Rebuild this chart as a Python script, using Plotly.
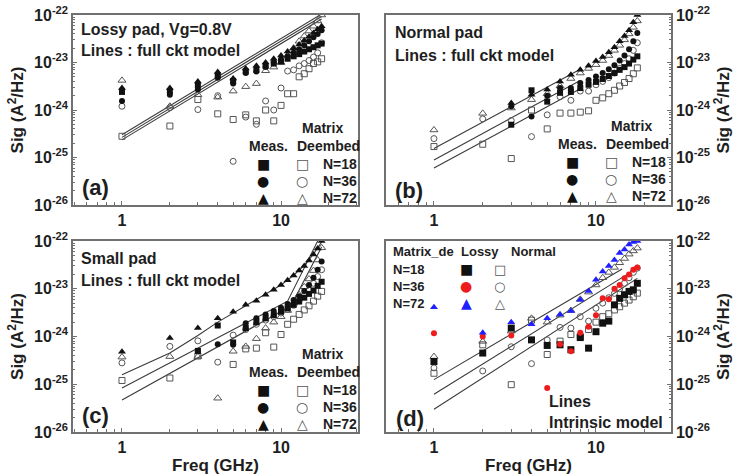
import plotly.graph_objects as go

W, H = 744, 476
FREQ = list(range(1, 19))

# ---------------- panel (a) : Lossy pad, Vg=0.8V ----------------
A_MEAS_18 = [2.4e-24, 2.5e-24, 3.3e-24, 5.4e-24, 4.1e-24, 6.5e-24, 7.0e-24, 8.5e-24, 9.5e-24,
             1.05e-23, 1.2e-23, 1.35e-23, 1.5e-23, 1.7e-23, 1.9e-23, 2.1e-23, 2.3e-23, 2.5e-23]
A_MEAS_36 = [1.55e-24, 2.1e-24, 2.7e-24, 4.8e-24, 3.6e-24, 6.0e-24, 6.5e-24, 8.0e-24, 1.0e-23,
             1.15e-23, 1.35e-23, 1.6e-23, 1.9e-23, 2.3e-23, 2.8e-23, 3.4e-23, 4.0e-23, 4.8e-23]
A_MEAS_72 = [2.9e-24, 2.9e-24, 4.0e-24, 6.3e-24, 4.6e-24, 7.5e-24, 8.5e-24, 1.0e-23, 1.2e-23,
             1.4e-23, 1.7e-23, 2.0e-23, 2.4e-23, 2.9e-23, 3.5e-23, 4.2e-23, 5.0e-23, 5.8e-23]
A_DEEM_18 = [2.8e-25, 4.6e-25, 1.66e-24, 8.3e-25, 6.3e-25, 7.9e-25, 5.9e-25, 1.0e-24, 5.9e-25,
             1.25e-24, 2.2e-24, 2.2e-24, 5.0e-24, 5.8e-24, 7.4e-24, 9.5e-24, 1.03e-23, 1.2e-23]
A_DEEM_36 = [1.2e-24, 1.12e-24, 1.02e-24, 2.0e-24, 8.3e-26, 7.1e-25, 5.0e-25, 1.55e-24, 1.0e-24,
             2.9e-24, 6.6e-24, 7.0e-24, 8.5e-24, 9.5e-24, 1.1e-23, 1.3e-23, 1.6e-23, 2.6e-23]
A_DEEM_72 = [4.2e-24, 1.2e-24, 2.1e-24, 1.86e-24, 2.5e-24, 3.1e-24, 3.6e-24, 6.7e-24, 8.0e-24,
             1.0e-23, 1.4e-23, 2.0e-23, 2.8e-23, 3.6e-23, 4.6e-23, 5.8e-23, 7.5e-23, 1.0e-22]
A_LINE_F = [1, 18]
A_LINE_1 = [3.0e-25, 1.05e-22]
A_LINE_2 = [2.65e-25, 9.3e-23]
A_LINE_3 = [2.35e-25, 8.2e-23]

# ---------------- panel (b) : Normal pad ----------------
B_MEAS_18 = [None, None, 4.9e-25, 2.6e-24, 1.5e-24, 2.3e-24, 2.4e-24, 2.9e-24, 3.4e-24,
             3.9e-24, 4.5e-24, 5.2e-24, 6.0e-24, 7.0e-24, 8.0e-24, 9.5e-24, 1.15e-23, 1.35e-23]
B_MEAS_36 = [None, None, 1.2e-24, 7.3e-25, 2.0e-24, 2.9e-24, 2.9e-24, 3.7e-24, 4.3e-24,
             5.1e-24, 6.0e-24, 7.2e-24, 8.8e-24, 1.1e-23, 1.4e-23, 1.9e-23, 2.8e-23, 4.2e-23]
B_MEAS_72 = [None, None, 1.4e-24, 2.1e-24, 2.7e-24, 4.0e-24, 5.5e-24, 7.0e-24, 8.5e-24,
             1.07e-23, 1.3e-23, 1.65e-23, 2.1e-23, 2.8e-23, 3.6e-23, 4.8e-23, 7.0e-23, 1.0e-22]
B_DEEM_18 = [1.7e-25, 1.9e-25, 9.5e-26, 1.0e-24, 4.0e-25, 8.6e-25, 8.6e-25, 9.0e-25, 9.6e-25,
             1.6e-24, 1.8e-24, 2.2e-24, 2.6e-24, 3.2e-24, 3.8e-24, 4.6e-24, 5.8e-24, 7.7e-24]
B_DEEM_36 = [2.5e-25, 6.5e-25, 6.0e-25, 2.75e-25, 7.9e-25, 1.9e-24, 1.6e-24, 2.5e-24, 2.5e-24,
             3.4e-24, 4.0e-24, 4.8e-24, 6.0e-24, 7.5e-24, 9.5e-24, 1.2e-23, 1.8e-23, 2.6e-23]
B_DEEM_72 = [3.8e-25, 8.5e-25, 1.1e-24, 1.65e-24, 2.2e-24, 3.2e-24, 4.6e-24, 6.0e-24, 7.5e-24,
             9.0e-24, 1.1e-23, 1.4e-23, 1.8e-23, 2.3e-23, 3.0e-23, 4.0e-23, 5.5e-23, 7.5e-23]
B_LINE_F = [1, 8]
B_LINE_1 = [1.55e-25, 7.2e-24]
B_LINE_2 = [8.9e-26, 4.2e-24]
B_LINE_3 = [6.0e-26, 2.8e-24]

# ---------------- panel (c) : Small pad ----------------
C_MEAS_18 = [None, None, 5.0e-25, 1.7e-24, 7.5e-25, 1.5e-24, 2.0e-24, 2.4e-24, 2.8e-24,
             3.3e-24, 3.9e-24, 4.6e-24, 5.4e-24, 6.5e-24, 7.8e-24, 9.2e-24, 1.15e-23, 1.4e-23]
C_MEAS_36 = [None, None, 4.9e-25, 6.9e-25, 6.7e-25, 1.9e-24, 2.4e-24, 2.9e-24, 3.4e-24,
             4.0e-24, 4.8e-24, 5.8e-24, 7.0e-24, 9.0e-24, 1.2e-23, 1.7e-23, 2.5e-23, 3.7e-23]
C_MEAS_72 = [4.8e-25, 9.3e-25, 1.5e-24, 2.4e-24, 3.3e-24, 4.6e-24, 5.6e-24, 7.5e-24, 9.5e-24,
             1.2e-23, 1.5e-23, 1.9e-23, 2.4e-23, 3.0e-23, 3.9e-23, 5.2e-23, 7.0e-23, 1.0e-22]
C_DEEM_18 = [1.2e-25, 1.35e-25, 3.9e-25, None, 2.6e-25, 5.5e-25, 5.7e-25, 1.2e-24, 6.0e-25,
             1.1e-24, 1.8e-24, 2.3e-24, 2.9e-24, 3.6e-24, 4.4e-24, 5.5e-24, 7.0e-24, 8.8e-24]
C_DEEM_36 = [2.8e-25, 6.2e-25, 8.1e-25, 2.9e-25, 1.07e-24, 1.4e-24, 1.8e-24, 2.2e-24, 2.6e-24,
             3.1e-24, 3.7e-24, 4.5e-24, 5.6e-24, 7.2e-24, 9.5e-24, 1.3e-23, 1.8e-23, 2.5e-23]
C_DEEM_72 = [3.7e-25, 3.8e-25, 3.8e-25, 5.1e-26, 4.9e-25, 6.2e-25, 9.0e-25, 1.5e-24, 2.0e-24,
             2.6e-24, 3.5e-24, 5.0e-24, 7.5e-24, 1.1e-23, 1.6e-23, 2.4e-23, 4.0e-23, 7.2e-23]
C_LINE1_F = [1, 2, 3, 4, 6, 8, 10, 12, 14, 16, 18]
C_LINE1 = [1.58e-25, 4.5e-25, 1.05e-24, 2.0e-24, 4.4e-24, 7.6e-24, 1.2e-23, 1.9e-23, 3.1e-23,
           5.3e-23, 9.5e-23]
C_LINE2_F = [1, 11, 17]
C_LINE2 = [8.3e-26, 5.5e-24, 1.0e-22]
C_LINE3_F = [1, 11.5, 18]
C_LINE3 = [4.7e-26, 4.3e-24, 7.5e-23]

# ---------------- panel (d) : Matrix de-embedded, Lossy vs Normal ----------------
D_LOSSY_18 = [3.0e-25, 4.5e-25, 1.5e-24, 8.5e-25, 6.5e-25, 6.7e-25, 5.3e-25, 9.5e-25, 5.7e-25,
              1.26e-24, 1.9e-24, 2.1e-24, 4.6e-24, 6.3e-24, 7.5e-24, 8.8e-24, 9.5e-24, 1.3e-23]
D_LOSSY_36 = [1.17e-24, 1.0e-24, 1.05e-24, None, 8.3e-26, 6.9e-25, 4.9e-25, 1.2e-24, 1.6e-24,
              2.8e-24, 6.3e-24, 6.0e-24, 1.0e-23, 1.2e-23, 1.66e-23, 2.0e-23, 2.5e-23, 2.8e-23]
D_LOSSY_72 = [4.1e-24, 1.2e-24, 2.0e-24, 1.8e-24, 2.4e-24, 2.9e-24, 3.4e-24, 5.9e-24, 9.0e-24,
              1.55e-23, 2.3e-23, 3.0e-23, 4.0e-23, 5.6e-23, 6.6e-23, 8.4e-23, 9.5e-23, 1.0e-22]
D_NORM_18 = [1.7e-25, 6.7e-25, 9.8e-26, 2.2e-24, 4.2e-25, 8.0e-25, 1.1e-24, 1.0e-24, 1.4e-24,
             2.0e-24, 2.6e-24, 3.0e-24, 3.6e-24, 4.2e-24, 5.0e-24, 5.8e-24, 6.8e-24, 8.1e-24]
D_NORM_36 = [2.2e-25, 1.9e-25, 6.1e-25, 2.7e-25, 8.5e-25, 1.55e-24, 1.5e-24, 2.6e-24, 2.1e-24,
             3.9e-24, 5.0e-24, 6.5e-24, 8.0e-24, 1.0e-23, 1.3e-23, 1.7e-23, 2.2e-23, 2.7e-23]
D_NORM_72 = [3.8e-25, 7.9e-25, 1.3e-24, 2.4e-24, 2.0e-24, 2.8e-24, 3.5e-24, 6.0e-24, 8.5e-24,
             1.2e-23, 1.7e-23, 2.2e-23, 2.8e-23, 3.5e-23, 4.3e-23, 5.3e-23, 6.2e-23, 7.1e-23]
D_LINE1_F = [1, 14.5]
D_LINE1 = [1.25e-25, 2.6e-23]
D_LINE2_F = [1, 18]
D_LINE2 = [6.2e-26, 2.7e-23]
D_LINE3_F = [1, 18]
D_LINE3 = [3.0e-26, 1.65e-23]

# tick labels
X_TICKS = [1, 10]
X_TICK_TEXT = ["1", "10"]
Y_DECADES = [-26, -25, -24, -23, -22]

# ---------------- styling ----------------
TXT = "#1e1e1e"
FRAME = "#707070"
FONT = "Liberation Sans, Arial, sans-serif"
SYMF = "DejaVu Sans, sans-serif"
BLACK = "#111111"
OPEN = "#555555"
RED = "#ee1c1c"
BLUE = "#1f1fff"


def bold(size, color=TXT, family=FONT):
    return dict(family=family, size=size, color=color, weight="bold")


def fx(px):
    return px / W


def fy(py):
    return 1 - py / H


x_minor = []
for dec in [0.1, 1, 10]:
    for m in range(2, 10):
        v = round(m * dec, 6)
        if 0.45 <= v <= 32:
            x_minor.append(v)
y_major = [10.0 ** e for e in Y_DECADES]
y_major_text = [f"10<sup>{e}</sup>" for e in Y_DECADES]
y_minor = [m * 10.0 ** e for e in Y_DECADES[:-1] for m in range(2, 10)]

fig = go.Figure()

PANELS = [
    dict(i=1, xd=(73, 358), yd=(15, 205), xr=(-0.308, 1.484), side="left", xtitle=False),
    dict(i=2, xd=(386, 671), yd=(15, 205), xr=(-0.296, 1.463), side="right", xtitle=False),
    dict(i=3, xd=(73, 358), yd=(241, 432), xr=(-0.308, 1.484), side="left", xtitle=True),
    dict(i=4, xd=(386, 671), yd=(241, 432), xr=(-0.296, 1.463), side="right", xtitle=True),
]

layout_axes = {}
for p in PANELS:
    i = p["i"]
    sx = "" if i == 1 else str(i)
    common = dict(type="log", ticks="inside", ticklen=4, tickwidth=1, tickcolor=FRAME,
                  showline=True, linecolor=FRAME, linewidth=1.5, mirror=True,
                  showgrid=False, zeroline=False, tickfont=bold(16), automargin=False)
    layout_axes["xaxis" + sx] = dict(
        common, domain=[fx(p["xd"][0]), fx(p["xd"][1])], range=list(p["xr"]),
        anchor="y" + sx, tickmode="array", tickvals=X_TICKS, ticktext=X_TICK_TEXT,
        minor=dict(tickmode="array", tickvals=x_minor, ticks="inside", ticklen=3,
                   tickcolor=FRAME, showgrid=False),
        title=dict(text="Freq (GHz)" if p["xtitle"] else "", font=bold(17), standoff=4))
    layout_axes["yaxis" + sx] = dict(
        common, domain=[fy(p["yd"][1]), fy(p["yd"][0])], range=[-26, -22],
        anchor="x" + sx, side=p["side"], tickmode="array", tickvals=y_major, ticktext=y_major_text,
        minor=dict(tickmode="array", tickvals=y_minor, ticks="inside", ticklen=2,
                   tickcolor=FRAME, showgrid=False),
        title=dict(text="Sig (A<sup>2</sup>/Hz)", font=bold(17), standoff=6))


def add_line(i, xs, ys):
    sx = "" if i == 1 else str(i)
    fig.add_trace(go.Scatter(x=xs, y=ys, mode="lines", line=dict(color="#3a3a3a", width=1.1),
                             xaxis="x" + sx, yaxis="y" + sx, showlegend=False, hoverinfo="skip"))


def add_pts(i, ys, symbol, color, size, hollow=False):
    sx = "" if i == 1 else str(i)
    if hollow:
        marker = dict(symbol=symbol + "-open", size=size, color=color, line=dict(width=1, color=color))
    else:
        marker = dict(symbol=symbol, size=size, color=color, line=dict(width=0))
    fig.add_trace(go.Scatter(x=FREQ, y=ys, mode="markers", marker=marker,
                             xaxis="x" + sx, yaxis="y" + sx, showlegend=False))


# lines
for xs, ys in [(A_LINE_F, A_LINE_1), (A_LINE_F, A_LINE_2), (A_LINE_F, A_LINE_3)]:
    add_line(1, xs, ys)
for xs, ys in [(B_LINE_F, B_LINE_1), (B_LINE_F, B_LINE_2), (B_LINE_F, B_LINE_3)]:
    add_line(2, xs, ys)
for xs, ys in [(C_LINE1_F, C_LINE1), (C_LINE2_F, C_LINE2), (C_LINE3_F, C_LINE3)]:
    add_line(3, xs, ys)
for xs, ys in [(D_LINE1_F, D_LINE1), (D_LINE2_F, D_LINE2), (D_LINE3_F, D_LINE3)]:
    add_line(4, xs, ys)

# markers, panels a-c
for i, (m18, m36, m72, d18, d36, d72) in enumerate([
        (A_MEAS_18, A_MEAS_36, A_MEAS_72, A_DEEM_18, A_DEEM_36, A_DEEM_72),
        (B_MEAS_18, B_MEAS_36, B_MEAS_72, B_DEEM_18, B_DEEM_36, B_DEEM_72),
        (C_MEAS_18, C_MEAS_36, C_MEAS_72, C_DEEM_18, C_DEEM_36, C_DEEM_72)], start=1):
    add_pts(i, d18, "square", OPEN, 6, True)
    add_pts(i, d36, "circle", OPEN, 6, True)
    add_pts(i, d72, "triangle-up", OPEN, 7, True)
    add_pts(i, m18, "square", BLACK, 6)
    add_pts(i, m36, "circle", BLACK, 6)
    add_pts(i, m72, "triangle-up", BLACK, 7)

# panel d
add_pts(4, D_NORM_18, "square", OPEN, 6, True)
add_pts(4, D_NORM_36, "circle", OPEN, 6, True)
add_pts(4, D_NORM_72, "triangle-up", OPEN, 7, True)
add_pts(4, D_LOSSY_18, "square", BLACK, 7)
add_pts(4, D_LOSSY_36, "circle", RED, 6)
add_pts(4, D_LOSSY_72, "triangle-up", BLUE, 7)

# annotations
ann = []


def txt(s, x, y, size=16, color=TXT, xanchor="left", family=FONT):
    ann.append(dict(text=s, x=fx(x), y=fy(y), xref="paper", yref="paper", showarrow=False,
                    xanchor=xanchor, yanchor="middle", font=bold(size, color, family)))


txt("Lossy pad, Vg=0.8V", 79, 29)
txt("Lines : full ckt model", 79, 51)
txt("(a)", 80, 188, 22)
txt("Normal pad", 393, 33)
txt("Lines : full ckt model", 393, 55)
txt("(b)", 393, 190, 22)
txt("Small pad", 79, 258)
txt("Lines : full ckt model", 79, 280)
txt("(c)", 80, 415, 22)

for dx, dy in [(0, 0), (309, -2), (0, 226)]:
    txt("Matrix", 300 + dx, 128 + dy, 14)
    txt("Meas.", 247 + dx, 146 + dy, 14)
    txt("Deembed", 295 + dx, 146 + dy, 14)
    for k, (fs, os, lab) in enumerate([("■", "□", "N=18"), ("●", "○", "N=36"), ("▲", "△", "N=72")]):
        yy = [164, 181, 198][k] + dy
        txt(fs, 263 + dx, yy, 14, BLACK, "center", SYMF)
        txt(os, 302 + dx, yy, 14, OPEN, "center", SYMF)
        txt(lab, 321 + dx, yy, 14)

txt("Matrix_de", 391, 251, 13)
txt("Lossy", 459, 251, 13)
txt("Normal", 509, 251, 13)
for k, (fs, col, os, lab) in enumerate([("■", BLACK, "□", "N=18"), ("●", RED, "○", "N=36"),
                                        ("▲", BLUE, "△", "N=72")]):
    yy = [269, 286, 303][k]
    txt(lab, 391, yy, 13)
    txt(fs, 466, yy, 14, col, "center", SYMF)
    txt(os, 500, yy, 13, OPEN, "center", SYMF)
txt("Lines", 547, 401, 16)
txt("Intrinsic model", 547, 422, 16)
txt("(d)", 394, 418, 22)

fig.update_layout(
    width=W, height=H, margin=dict(l=0, r=0, t=0, b=0),
    paper_bgcolor="white", plot_bgcolor="white",
    font=bold(16), showlegend=False, annotations=ann, **layout_axes)

fig.write_html("out.html")
